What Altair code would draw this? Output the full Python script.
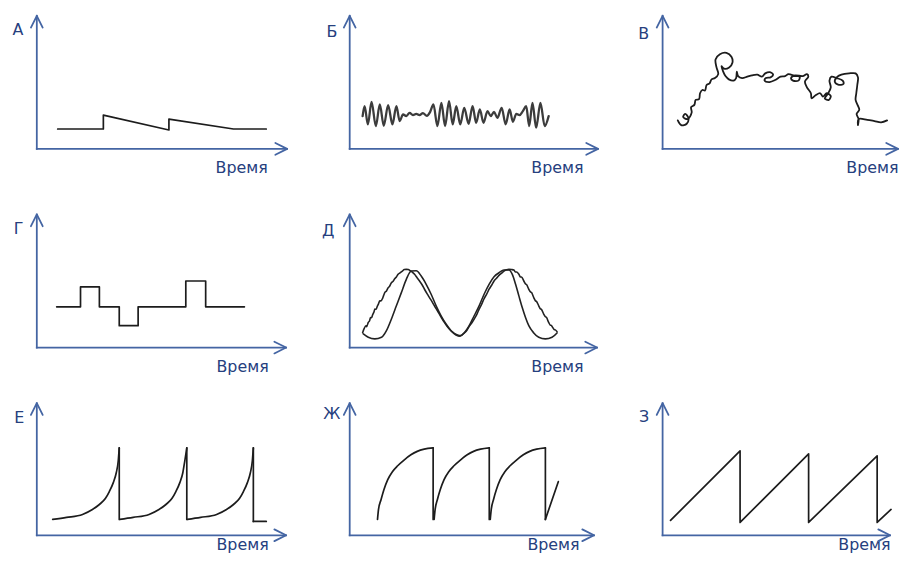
import altair as alt
import pandas as pd

AXIS_BLUE = "#4465a3"
TEXT_BLUE = "#26407e"
INK = "#1c1c1c"
FONT = "DejaVu Sans"

# ---- data (time, value) ----
# А
A_T = [21, 67, 67, 133, 133, 198, 231]
A_V = [20, 20, 34, 19, 30, 20, 20]

# Б
B_T = [13, 15, 18.3, 22, 26.3, 30.3, 34.3, 38.7, 43, 47, 50.3, 53.7, 57, 60.3, 63.7, 67, 70.3, 73.7, 77.7, 81,
       84.3, 88.3, 92.3, 96, 100, 103.7, 107.3, 111.3, 115.3, 119.7, 123.7, 127.3, 131, 134.7, 138.7, 142, 145.3,
       148.7, 153, 157, 161, 164.3, 167.7, 171, 174.3, 177.7, 180.7, 184, 187.7, 192, 196.3, 200.3]
B_V = [33, 43, 24.7, 47.3, 23, 44.7, 23.3, 44, 24.7, 43, 28, 34.7, 33, 36.3, 34, 35.3, 34, 36, 33.3, 37.3,
       44.7, 23, 46.3, 23, 48, 24.7, 43, 24.7, 41.3, 25.3, 43, 26.3, 39.7, 26.3, 38, 33, 37.3,
       31.3, 41.3, 24.7, 39.7, 27.3, 35.3, 34, 38, 43, 23, 46.3, 21.3, 46.3, 23, 33]

# В
V_T = [15.3, 18.7, 24.3, 26, 22.7, 20.7, 25.3, 29.3, 28.7, 32, 33.3, 36.7, 37.7, 40, 42.7, 44.3, 47.3, 49.3, 52.7, 56,
       54.3, 53.3, 57.7, 64.3, 69.3, 70.3, 67, 62, 59.3, 61, 63.3, 66.7, 71.3, 74, 74.7, 76, 80, 85.3, 90, 95.3,
       100, 103.3, 108, 111.3, 108.7, 104, 102.7, 107.7, 113.3, 118.7, 123.3, 126.7, 131.3, 132.7, 138, 136.7, 131.3,
       129.3, 133.3, 141, 145.3, 146.7, 143.3, 145.3, 149.3, 150, 154, 158.7, 161.3, 165.3, 169.3, 167.3, 163.3,
       166.7, 169.3, 168, 170, 175.3, 181.3, 182, 176.7, 173.3, 176, 180, 187.7, 194.3, 196.7, 196, 195, 194.3,
       196.7, 198, 195.3, 197.3, 196.7, 197.3, 206, 213.3, 220, 226]
V_V = [28.7, 24, 25.3, 31, 35.3, 32, 30, 36.7, 42, 44.3, 49.3, 50, 56, 59.3, 58.7, 64.3, 66, 70, 71.3, 75.3,
       82, 90, 95.3, 96.7, 92.7, 86.7, 82, 80.7, 83.3, 77.7, 73.3, 70, 68.7, 71.3, 77.7, 73.3, 71.3, 72.7, 74, 74.7,
       72.7, 76, 77.3, 74.7, 72, 71.3, 68.7, 67.3, 69.3, 72.7, 73.3, 75.3, 74, 73.3, 72.7, 68.7, 68.7,
       71.3, 74, 73.3, 75.3, 72.7, 67.7, 62, 56, 51, 54, 56, 52.7, 56, 53.3, 49.3, 50.7,
       56, 62, 68.7, 72.7, 71.3, 68.7, 65.3, 64.7, 68, 72.7, 74.7, 76, 76, 72, 64.3, 56, 49.3,
       43.3, 39.3, 35.3, 30, 24, 30, 29.3, 28, 26.7, 28.7]

# Г
G_T = [20, 44, 44, 63, 63, 83, 83, 102, 102, 150, 150, 170, 170, 209]
G_V = [41, 41, 61, 61, 41, 41, 22, 22, 41, 41, 67, 67, 41, 41]

# Д (two traces)
D1_T = [13, 14.5, 16.3, 17, 18.7, 20, 21, 22, 23, 24.5, 25.3, 26.5, 27.7, 29, 30.3, 31.5, 33, 34, 35.3, 37,
        38.7, 40, 42, 43.5, 45.3, 47, 48.7, 51, 53, 55, 57, 59, 61, 63, 65.3, 68, 70.3, 73, 75.3, 78,
        80.3, 83, 85.3, 88, 90.3, 93, 95.3, 98, 100.3, 103, 105.3, 108, 110.3, 113, 115.3, 118, 120.3, 123, 125.3, 128,
        130.3, 133, 135.3, 138, 140.3, 143, 145.3, 148, 150.3, 153, 155.3, 158, 160.3, 163, 165.3, 167, 168, 170.3,
        172, 173, 175.3, 177, 178, 180.3, 182, 183, 185.3, 187, 188, 190.3, 192, 193, 195.3, 197, 198, 200.3,
        202, 203, 204.3, 206, 207, 208.7]
D1_V = [15, 19, 22, 21, 25.3, 27, 30.3, 30, 32.7, 36, 38.7, 38.5, 41.3, 44, 47, 47, 49.3, 52, 55.3, 57,
        60.3, 61.5, 65.3, 66.5, 69.3, 71, 73.7, 75.5, 77, 78.5, 78.7, 78.5, 77.3, 76, 73.7, 70, 67, 63, 58.7, 54,
        50.3, 46, 42, 37.5, 33.7, 29, 25.3, 21.5, 18.7, 16, 14.3, 12.8, 12, 12.8, 14.7, 17.5, 21.3, 25, 28.7, 33.5,
        38.7, 44, 49.3, 54, 58.7, 63, 67, 70, 72.7, 75, 77, 78.3, 78.7, 78.5, 78, 76, 76, 73.7,
        71, 71, 67, 64, 63.5, 58.7, 56, 55.5, 50.3, 47, 46.5, 42, 39, 38.5, 33.7, 31, 30.5, 25.3,
        22.5, 22.3, 20.3, 18, 17.8, 16]
D2_T = [13.7, 18.7, 25.3, 32, 37, 42, 47, 52, 57, 62, 67, 72, 77, 82, 87, 92, 97, 102, 107, 111,
        115.3, 120.3, 125.3, 130.3, 135.3, 140.3, 145.3, 150.3, 155.3, 160.3, 163.7, 167, 170.3, 173.7, 177,
        180.3, 185.3, 190.3, 197, 203.7, 208.7]
D2_V = [13.7, 10.3, 8.7, 10.3, 17, 28.7, 42, 55.3, 68.7, 77, 77.3, 72, 63.7, 53.7, 42, 32, 23.7, 17, 12.7, 11.3,
        14.7, 22, 32, 42, 53.7, 63.7, 71.3, 75.3, 78, 78, 73.7, 63.7, 52, 40.3, 30.3,
        22, 14.7, 10.3, 8.7, 10.3, 14.7]

# Е (segments)
E_T = [[16, 30, 46, 56, 63, 69, 73, 77, 80, 82, 83], [83, 83],
       [83.5, 97, 113, 123, 130, 136, 140, 144, 147, 149, 151], [151, 151],
       [151.5, 165, 181, 191, 198, 204, 208, 212, 215, 217, 218], [218, 218], [218, 231]]
E_V = [[16, 18, 21, 26, 31, 37, 44, 53, 63, 75, 88], [88, 16],
       [16, 18, 21, 26, 31, 37, 44, 53, 63, 75, 88], [88, 16],
       [16, 18, 21, 26, 31, 37, 44, 53, 63, 75, 88], [88, 14], [14, 14]]

# Ж (segments)
J_T = [[28, 29, 31.6, 34.5, 38.3, 43, 48.3, 55, 61.6, 68, 75, 84], [84, 84],
       [85, 86, 88.3, 91.2, 95, 99.7, 105, 111.7, 118.3, 124.7, 131.7, 140.5], [140.5, 140.5],
       [141.5, 142.5, 144.8, 147.7, 151.5, 156.2, 161.5, 168.2, 174.8, 181.2, 188.2, 197], [197, 197], [197, 210]]
J_V = [[16, 26, 36, 46, 56, 64, 70, 76, 81, 84.5, 86.7, 88], [88, 16],
       [16, 26, 36, 46, 56, 64, 70, 76, 81, 84.5, 86.7, 88], [88, 16],
       [16, 26, 36, 46, 56, 64, 70, 76, 81, 84.5, 86.7, 88], [88, 16], [16, 54]]

# З
Z_T = [8, 78, 78, 147, 147, 216, 216, 230]
Z_V = [15, 85, 13, 82, 13, 80, 13, 26]

RIGHT = "M-1,-0.5L0,0L-1,0.5"
UP = "M-0.5,1L0,0L0.5,1"


def segs(T, V):
    if not isinstance(T[0], list):
        T, V = [T], [V]
    rows = []
    for k, (ts, vs) in enumerate(zip(T, V)):
        for i, (t, v) in enumerate(zip(ts, vs)):
            rows.append({"seg": k, "i": i, "t": t, "v": v})
    return pd.DataFrame(rows)


def panel(curves, letter, W, H, aw, ah, ytx, yty, xtx, xty=24):
    xs = alt.Scale(domain=[0, W], nice=False, zero=False)
    ys = alt.Scale(domain=[0, H], nice=False, zero=False)
    xax = alt.Axis(title="Время", domain=False, titleX=xtx, titleY=xty, titleAlign="right",
                   titleBaseline="alphabetic")
    yax = alt.Axis(title=letter, domain=False, titleX=ytx, titleY=yty, titleAngle=0, titleAlign="right",
                   titleBaseline="alphabetic")
    X = alt.X("t:Q", scale=xs, axis=xax)
    Y = alt.Y("v:Q", scale=ys, axis=yax)
    axes = alt.Chart(pd.DataFrame({"t": [0, 0], "t2": [aw, 0], "v": [0, 0], "v2": [0, ah]})).mark_rule(
        color=AXIS_BLUE, strokeWidth=1.8, strokeCap="square"
    ).encode(x=X, x2="t2:Q", y=Y, y2="v2:Q")
    arrows = alt.Chart(pd.DataFrame({"t": [aw, 0], "v": [0, ah], "s": [RIGHT, UP]})).mark_point(
        filled=False, size=560, strokeWidth=1.8, color=AXIS_BLUE, opacity=1, strokeCap="round", strokeJoin="round"
    ).encode(x=X, y=Y, shape=alt.Shape("s:N", scale=None, legend=None))
    layers = [axes, arrows]
    for df, kw in curves:
        layers.append(alt.Chart(df).mark_line(strokeCap="round", strokeJoin="round", **kw).encode(
            x=X, y=Y, detail="seg:N", order="i:Q"))
    return alt.layer(*layers).properties(width=W, height=H)


LW = dict(color=INK, strokeWidth=1.7)

# row 1 (cell height 134), row 2 (cell 144, axis 134), row 3 (133)
pA = panel([(segs(A_T, A_V), LW)], "А", 253, 134, 252, 134, -14, 19, 232)
pB = panel([(segs(B_T, B_V), dict(color="#3c3c3c", strokeWidth=2.3, interpolate="monotone"))],
           "Б", 253, 134, 250, 134, -13, 21, 235)
pV = panel([(segs(V_T, V_V), dict(color=INK, strokeWidth=1.8, interpolate="catmull-rom"))],
           "В", 237, 134, 237, 134, -14, 23, 237)
pG = panel([(segs(G_T, G_V), LW)], "Г", 253, 144, 251, 134, -14, 29, 233)
pD = panel([(segs([D1_T, D2_T], [D1_V, D2_V]), dict(color="#222222", strokeWidth=1.6, interpolate="monotone"))],
           "Д", 253, 144, 249, 134, -16, 31, 235)
blank = alt.Chart(pd.DataFrame({"t": [0], "v": [0]})).mark_point(opacity=0).encode(
    x=alt.X("t:Q", axis=None), y=alt.Y("v:Q", axis=None)).properties(width=237, height=144)
pE = panel([(segs(E_T, E_V), dict(color=INK, strokeWidth=1.7, interpolate="monotone"))],
           "Е", 257, 133, 251, 133, -13, 19, 233, 14)
pJ = panel([(segs(J_T, J_V), dict(color=INK, strokeWidth=1.7, interpolate="monotone"))],
           "Ж", 257, 133, 246, 133, -10, 15, 231, 14)
pZ = panel([(segs(Z_T, Z_V), LW)], "З", 229, 133, 229, 133, -14, 18, 229, 14)

chart = alt.concat(
    pA, pB, pV, pG, pD, blank, pE, pJ, pZ,
    columns=3, spacing={"row": 56, "column": 58}, bounds="flush", align="none",
).configure_view(stroke=None).configure_axis(
    ticks=False, labels=False, grid=False,
    titleFont=FONT, titleFontSize=16, titleFontWeight="normal", titleColor=TEXT_BLUE, titlePadding=0,
).properties(padding={"left": 4, "top": 4, "right": 0, "bottom": 0})

chart.save("out.html", embed_options={"renderer": "svg", "actions": False})
